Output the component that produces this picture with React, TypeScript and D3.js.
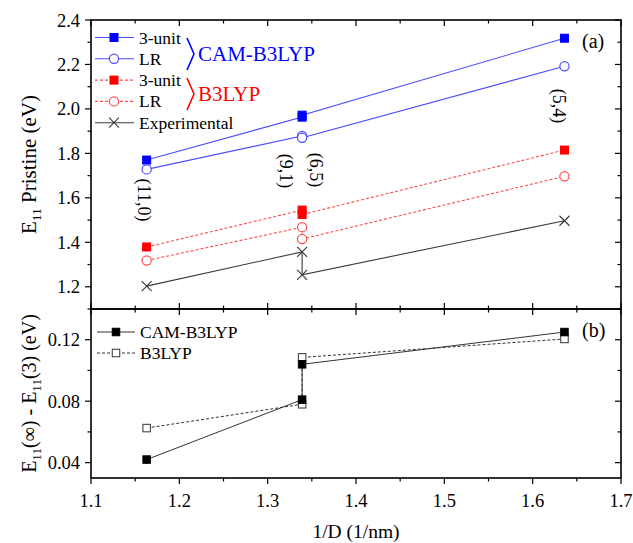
import React from "react";
import * as d3 from "d3";

// ---------- data ----------
const xVals = [1.163, 1.339, 1.339, 1.636];
const tubeLabels = ["(11,0)", "(9,1)", "(6,5)", "(5,4)"];
const camUnit = [1.77, 1.963, 1.972, 2.318];
const camLR = [1.728, 1.878, 1.870, 2.192];
const b3Unit = [1.379, 1.545, 1.525, 1.815];
const b3LR = [1.318, 1.468, 1.415, 1.697];
const expt = [1.203, 1.357, 1.254, 1.497];
const diffCam = [0.042, 0.081, 0.104, 0.125];
const diffB3 = [0.0625, 0.078, 0.1085, 0.1205];
const xTicks = [1.1, 1.2, 1.3, 1.4, 1.5, 1.6, 1.7];
const topTicks = [1.2, 1.4, 1.6, 1.8, 2.0, 2.2, 2.4];
const botTicks = [0.04, 0.08, 0.12];

const FONT = "Liberation Serif, DejaVu Serif, serif";

export default function App() {
  const L = 91, R = 621, T = 20, M = 309, B = 478;
  const x = d3.scaleLinear().domain([1.1, 1.7]).range([L, R]);
  const yT = d3.scaleLinear().domain([1.1, 2.4]).range([M, T]);
  const yB = d3.scaleLinear().domain([0.03, 0.14]).range([B, M]);

  const lineT = (vals: number[]) =>
    d3.line<number>().x((_, i) => x(xVals[i])).y((v) => yT(v))(vals) || "";
  const lineB = (vals: number[]) =>
    d3.line<number>().x((_, i) => x(xVals[i])).y((v) => yB(v))(vals) || "";

  const sq = (cx: number, cy: number, fill: string, stroke: string, s = 8, key?: any) => (
    <rect key={key} x={cx - s / 2} y={cy - s / 2} width={s} height={s} fill={fill} stroke={stroke} strokeWidth={1} />
  );
  const circ = (cx: number, cy: number, stroke: string, key?: any) => (
    <circle key={key} cx={cx} cy={cy} r={4.6} fill="white" stroke={stroke} strokeWidth={1.2} />
  );
  const cross = (cx: number, cy: number, stroke: string, key?: any) => (
    <path key={key} d={`M${cx - 5},${cy - 5}L${cx + 5},${cy + 5}M${cx - 5},${cy + 5}L${cx + 5},${cy - 5}`} stroke={stroke} strokeWidth={1.1} />
  );

  const blue = "#0000ff";
  const blueL = "#4d4dff";
  const red = "#ff0000";
  const redL = "#ff4d4d";
  const gray = "#3a3a3a";

  const xMinor = d3.range(1.1, 1.7001, 0.05);
  const topMinor = d3.range(1.1, 2.4001, 0.1);
  const botMinor = d3.range(0.04, 0.1401, 0.02);

  const txt = { fontFamily: FONT };

  return (
    <svg width={633} height={543} style={{ position: "absolute", left: 0, top: 0, background: "white", fontFamily: FONT }}>
      <rect x={0} y={0} width={633} height={543} fill="white" />
      {/* frames */}
      <rect x={L} y={T} width={R - L} height={M - T} fill="none" stroke="#000" strokeWidth={1.6} />
      <rect x={L} y={M} width={R - L} height={B - M} fill="none" stroke="#000" strokeWidth={1.6} />

      {/* x ticks */}
      {xMinor.map((v, i) => {
        const major = i % 2 === 0;
        const len = major ? 6 : 3.5;
        const px = x(v);
        return (
          <g key={"xt" + i} stroke="#000" strokeWidth={1.2}>
            <line x1={px} x2={px} y1={T} y2={T + len} />
            <line x1={px} x2={px} y1={M} y2={M - len} />
            <line x1={px} x2={px} y1={M} y2={M + len} />
            <line x1={px} x2={px} y1={B} y2={B + len} />
          </g>
        );
      })}
      {xTicks.map((v) => (
        <text key={"xl" + v} style={txt} x={x(v)} y={507} fontSize={18.5} textAnchor="middle">{v.toFixed(1)}</text>
      ))}
      <text style={txt} x={356} y={538} fontSize={19.5} textAnchor="middle">1/D (1/nm)</text>

      {/* top y ticks */}
      {topMinor.map((v, i) => {
        const major = i % 2 === 1;
        const len = major ? 6 : 3.5;
        const py = yT(v);
        if (Math.abs(v - 1.1) < 1e-6) return null;
        return (
          <g key={"yt" + i} stroke="#000" strokeWidth={1.2}>
            <line x1={L} x2={L - len} y1={py} y2={py} />
            <line x1={R} x2={R - len} y1={py} y2={py} />
          </g>
        );
      })}
      {topTicks.map((v) => (
        <text key={"ytl" + v} style={txt} x={L - 11} y={yT(v) + 6.5} fontSize={18.5} textAnchor="end">{v.toFixed(1)}</text>
      ))}
      <text style={txt} transform={`translate(36,${(T + M) / 2}) rotate(-90)`} fontSize={21} textAnchor="middle">
        E<tspan fontSize={13.5} dy={5}>11</tspan><tspan dy={-5}> Pristine (eV)</tspan>
      </text>

      {/* bottom y ticks */}
      {botMinor.map((v, i) => {
        const major = i % 2 === 0;
        const len = major ? 6 : 3.5;
        const py = yB(v);
        return (
          <g key={"yb" + i} stroke="#000" strokeWidth={1.2}>
            <line x1={L} x2={L - len} y1={py} y2={py} />
            <line x1={R} x2={R - len} y1={py} y2={py} />
          </g>
        );
      })}
      {botTicks.map((v) => (
        <text key={"ybl" + v} style={txt} x={L - 11} y={yB(v) + 6.5} fontSize={18.5} textAnchor="end">{v.toFixed(2)}</text>
      ))}
      <text style={txt} transform={`translate(36,${(M + B) / 2}) rotate(-90)`} fontSize={20} textAnchor="middle">
        E<tspan fontSize={13} dy={5}>11</tspan><tspan dy={-5}>(∞) - E</tspan><tspan fontSize={13} dy={5}>11</tspan><tspan dy={-5}>(3) (eV)</tspan>
      </text>

      {/* top panel series */}
      <path d={lineT(camUnit)} fill="none" stroke={blueL} strokeWidth={1.1} />
      <path d={lineT(camLR)} fill="none" stroke={blueL} strokeWidth={1.1} />
      <path d={lineT(b3Unit)} fill="none" stroke={redL} strokeWidth={1.1} strokeDasharray="3,2" />
      <path d={lineT(b3LR)} fill="none" stroke={redL} strokeWidth={1.1} strokeDasharray="3,2" />
      <path d={lineT(expt)} fill="none" stroke={gray} strokeWidth={1.1} />
      {camUnit.map((v, i) => sq(x(xVals[i]), yT(v), blue, blue, 8, "cu" + i))}
      {camLR.map((v, i) => circ(x(xVals[i]), yT(v), blueL, "cl" + i))}
      {b3Unit.map((v, i) => sq(x(xVals[i]), yT(v), red, red, 8, "bu" + i))}
      {b3LR.map((v, i) => circ(x(xVals[i]), yT(v), redL, "bl" + i))}
      {expt.map((v, i) => cross(x(xVals[i]), yT(v), gray, "ex" + i))}

      {/* tube labels */}
      {[
        { lab: tubeLabels[0], px: x(xVals[0]) - 3, py: 200 },
        { lab: tubeLabels[1], px: x(xVals[1]) - 16, py: 171 },
        { lab: tubeLabels[2], px: x(xVals[2]) + 14, py: 170 },
        { lab: tubeLabels[3], px: x(xVals[3]) - 5, py: 106 },
      ].map((d) => (
        <text key={d.lab} style={txt} transform={`translate(${d.px},${d.py}) rotate(90)`} fontSize={18} textAnchor="middle" dy={6}>{d.lab}</text>
      ))}

      <text style={txt} x={582} y={48} fontSize={20}>(a)</text>
      <text style={txt} x={582} y={337} fontSize={20}>(b)</text>

      {/* top legend */}
      {[
        { lab: "3-unit", c: blueL, dash: undefined, m: "sqB" },
        { lab: "LR", c: blueL, dash: undefined, m: "cB" },
        { lab: "3-unit", c: redL, dash: "3,2", m: "sqR" },
        { lab: "LR", c: redL, dash: "3,2", m: "cR" },
        { lab: "Experimental", c: gray, dash: undefined, m: "x" },
      ].map((d, i) => {
        const yy = 37.5 + i * 21.3;
        return (
          <g key={"lg" + i}>
            <line x1={95} x2={134} y1={yy} y2={yy} stroke={d.c} strokeWidth={1.1} strokeDasharray={d.dash} />
            {d.m === "sqB" && sq(114, yy, blue, blue)}
            {d.m === "sqR" && sq(114, yy, red, red)}
            {d.m === "cB" && circ(114, yy, blueL)}
            {d.m === "cR" && circ(114, yy, redL)}
            {d.m === "x" && cross(114, yy, gray)}
            <text style={txt} x={139} y={yy + 6} fontSize={17.5}>{d.lab}</text>
          </g>
        );
      })}
      <path d="M187,38 Q191,47 194,54 Q191,61 187,70" fill="none" stroke={blue} strokeWidth={1.6} />
      <text style={txt} x={198} y={61} fontSize={21} fill={blue}>CAM-B3LYP</text>
      <path d="M187,78 Q191,87 194,94 Q191,101 187,110" fill="none" stroke={red} strokeWidth={1.6} />
      <text style={txt} x={198} y={101} fontSize={21} fill={red}>B3LYP</text>

      {/* bottom panel series */}
      <path d={lineB(diffB3)} fill="none" stroke="#333" strokeWidth={1} strokeDasharray="3,2" />
      <path d={lineB(diffCam)} fill="none" stroke="#333" strokeWidth={1} />
      {diffB3.map((v, i) => sq(x(xVals[i]), yB(v), "white", "#333", 7.5, "db" + i))}
      {diffCam.map((v, i) => sq(x(xVals[i]), yB(v), "#000", "#000", 7.5, "dc" + i))}

      {/* bottom legend */}
      <line x1={97} x2={135} y1={332} y2={332} stroke="#333" strokeWidth={1} />
      {sq(116, 332, "#000", "#000", 7.5)}
      <text style={txt} x={140} y={338} fontSize={17.5}>CAM-B3LYP</text>
      <line x1={97} x2={135} y1={353} y2={353} stroke="#333" strokeWidth={1} strokeDasharray="3,2" />
      {sq(116, 353, "white", "#333", 7.5)}
      <text style={txt} x={140} y={359} fontSize={17.5}>B3LYP</text>
    </svg>
  );
}
